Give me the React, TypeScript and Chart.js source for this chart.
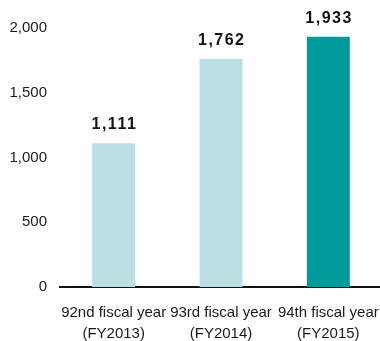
import React, { useEffect, useRef } from "react";
import { Chart, registerables } from "chart.js";

Chart.register(...registerables);

const categories: string[][] = [
  ["92nd fiscal year", "(FY2013)"],
  ["93rd fiscal year", "(FY2014)"],
  ["94th fiscal year", "(FY2015)"],
];
const values: number[] = [1111, 1762, 1933];
const barColors: string[] = ["#bbe0e3", "#bbe0e3", "#009a9a"];
const yTicks: number[] = [0, 500, 1000, 1500, 2000];

const FONT = "'Liberation Sans', Arial, sans-serif";

const valueLabelPlugin = {
  id: "valueLabels",
  afterDatasetsDraw(chart: any) {
    const ctx = chart.ctx as CanvasRenderingContext2D;
    const meta = chart.getDatasetMeta(0);
    ctx.save();
    ctx.font = `bold 16px ${FONT}`;
    (ctx as any).letterSpacing = "1.5px";
    ctx.fillStyle = "#111111";
    ctx.textAlign = "center";
    ctx.textBaseline = "alphabetic";
    meta.data.forEach((bar: any, i: number) => {
      const txt = values[i].toLocaleString("en-US");
      ctx.fillText(txt, bar.x + 0.75, bar.y - 14);
    });
    ctx.restore();
  },
};

export default function App() {
  const ref = useRef<HTMLCanvasElement | null>(null);

  useEffect(() => {
    if (!ref.current) return;
    const chart = new Chart(ref.current, {
      type: "bar",
      data: {
        labels: categories,
        datasets: [
          {
            data: values,
            backgroundColor: barColors,
            borderWidth: 0,
            barPercentage: 0.4,
            categoryPercentage: 1,
          },
        ],
      },
      options: {
        animation: false,
        responsive: true,
        maintainAspectRatio: false,
        layout: { padding: { top: 28, left: 0, right: 0, bottom: 0 } },
        plugins: {
          legend: { display: false },
          tooltip: { enabled: false },
        },
        scales: {
          x: {
            grid: { display: false, drawTicks: false },
            border: { display: true, color: "#111111", width: 2 },
            ticks: {
              color: "#1a1a1a",
              font: { family: FONT, size: 15, lineHeight: 1.4 },
              padding: 15,
              maxRotation: 0,
              autoSkip: false,
            },
            afterFit(scale: any) {
              scale.height = 54;
              scale.paddingLeft = 0;
              scale.paddingRight = 0;
            },
          },
          y: {
            min: 0,
            max: 2000,
            grid: { display: false, drawTicks: false },
            border: { display: false },
            afterBuildTicks(scale: any) {
              scale.ticks = yTicks.map((v) => ({ value: v }));
            },
            ticks: {
              color: "#1a1a1a",
              font: { family: FONT, size: 15 },
              padding: 13,
              callback: (v: any) => Number(v).toLocaleString("en-US"),
            },
            afterFit(scale: any) {
              scale.width = 60;
            },
          },
        },
      },
      plugins: [valueLabelPlugin],
    });
    return () => chart.destroy();
  }, []);

  return (
    <div
      style={{
        position: "fixed",
        left: 0,
        top: 0,
        width: 380,
        height: 341,
        overflow: "hidden",
        background: "#ffffff",
      }}
    >
      <div style={{ position: "relative", width: 382, height: 341 }}>
        <canvas ref={ref} />
      </div>
    </div>
  );
}
